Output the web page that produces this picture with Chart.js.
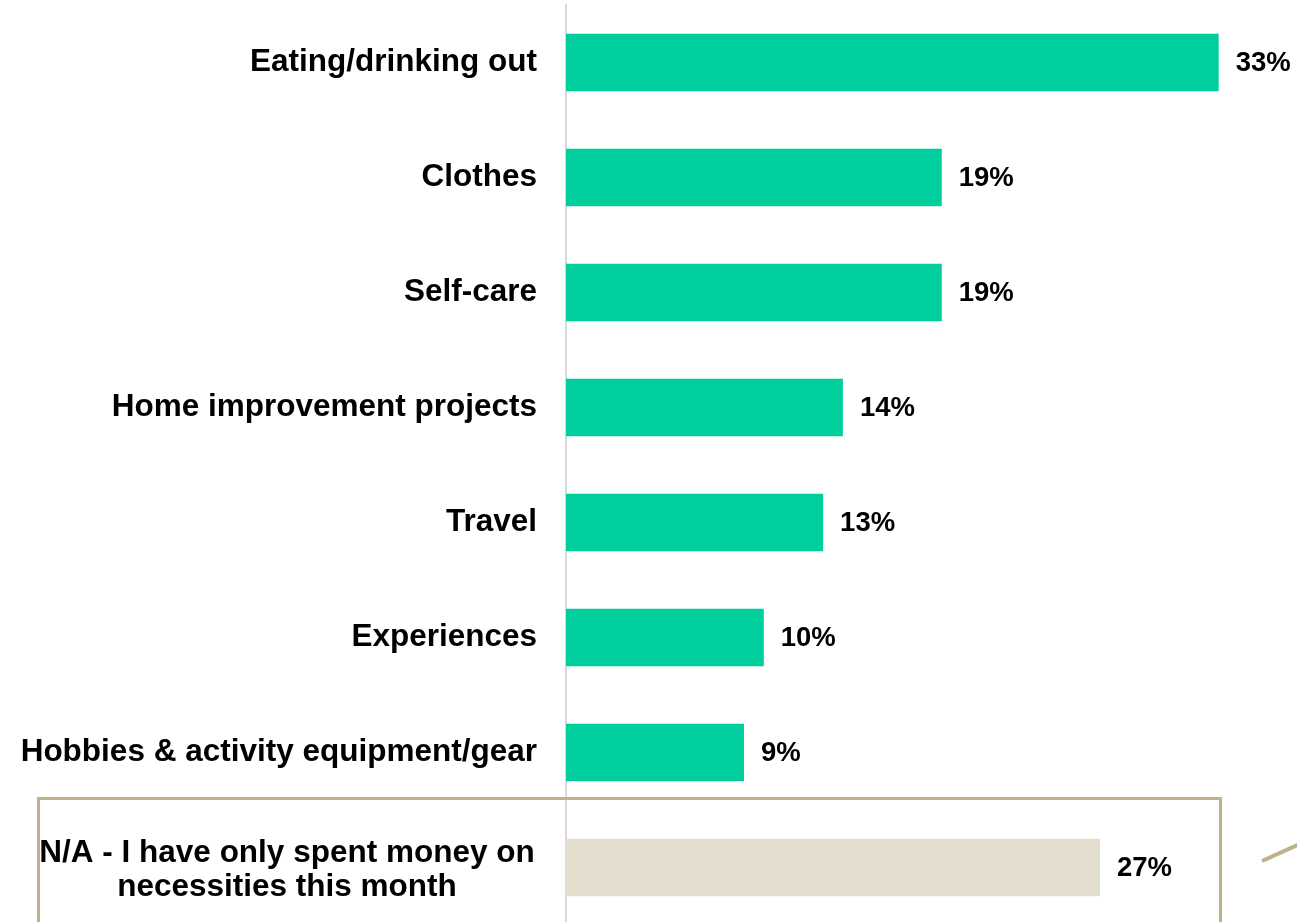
<html>
	<head>
		<title>Spending chart</title>
		<style>
			body {
				margin: 0;
				padding: 0;
				overflow: hidden;
				background: #fff;
				font-family: "Liberation Sans", Arial, sans-serif;
			}
		</style>
	</head>
	<body>
		<canvas id="myChart" width="1297" height="925"></canvas>
		<script src="https://cdn.jsdelivr.net/npm/chart.js@4/dist/chart.umd.min.js"></script>
		<script>
			const categories = [
				"Eating/drinking out",
				"Clothes",
				"Self-care",
				"Home improvement projects",
				"Travel",
				"Experiences",
				"Hobbies & activity equipment/gear",
				["N/A - I have only spent money on", "necessities this month"],
			];
			const values = [33, 19, 19, 14, 13, 10, 9, 27];
			const barColors = ["#00CF9D", "#00CF9D", "#00CF9D", "#00CF9D", "#00CF9D", "#00CF9D", "#00CF9D", "#E4DECE"];
			const valueSuffix = "%";

			const font = '"Liberation Sans", Arial, sans-serif';

			// value labels at the end of bars + the centred 2-line label + the outline box
			const extras = {
				id: "extras",
				afterDatasetsDraw(chart) {
					const c = chart.ctx;
					const meta = chart.getDatasetMeta(0);
					c.save();
					c.fillStyle = "#000";
					c.font = "bold 27.5px " + font;
					c.textAlign = "left";
					c.textBaseline = "middle";
					meta.data.forEach((bar, i) => {
						c.fillText(values[i] + valueSuffix, bar.x + 17, bar.y + 1);
					});
					// multi-line category, centred under itself
					const yScale = chart.scales.y;
					categories.forEach((cat, i) => {
						if (!Array.isArray(cat)) return;
						const y = yScale.getPixelForValue(i);
						c.font = "bold 31.5px " + font;
						c.textAlign = "center";
						c.fillText(cat[0], 287, y - 14);
						c.fillText(cat[1], 287, y + 20);
					});
					// outline box and the little connector stroke
					c.strokeStyle = "#BFB28A";
					c.lineWidth = 3;
					c.strokeRect(38.5, 798.5, 1182, 200);
					c.lineWidth = 4;
					c.beginPath();
					c.moveTo(1262, 861);
					c.lineTo(1302, 843);
					c.stroke();
					c.restore();
				},
			};

			new Chart(document.getElementById("myChart"), {
				type: "bar",
				data: {
					labels: categories,
					datasets: [
						{
							data: values,
							backgroundColor: barColors,
							categoryPercentage: 1,
							barPercentage: 0.5,
						},
					],
				},
				options: {
					indexAxis: "y",
					responsive: false,
					animation: false,
					layout: { padding: { top: 5, right: 19, bottom: 0, left: 0 } },
					plugins: {
						legend: { display: false },
						tooltip: { enabled: false },
					},
					scales: {
						x: { display: false, min: 0, max: 36 },
						y: {
							afterFit: scale => {
								scale.width = 566;
								scale.paddingTop = 0;
								scale.paddingBottom = 0;
							},
							grid: { display: false, drawTicks: false },
							border: { display: true, color: "#D9D9D9", width: 2 },
							ticks: {
								padding: 29,
								color: "#000",
								font: { family: font, size: 31.5, weight: "bold" },
								callback: (v, i) => (Array.isArray(categories[i]) ? "" : categories[i]),
							},
						},
					},
				},
				plugins: [extras],
			});
		</script>
	</body>
</html>
